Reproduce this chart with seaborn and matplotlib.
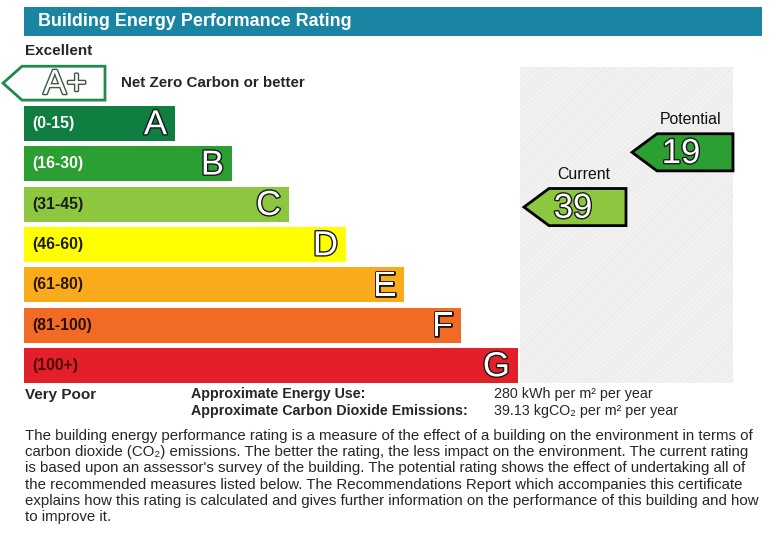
import matplotlib
matplotlib.use("Agg")
import matplotlib.pyplot as plt
import matplotlib.patheffects as pe
from matplotlib.patches import Polygon, Rectangle
import seaborn as sns

# --- data read from the certificate ---
bands = ["A", "B", "C", "D", "E", "F", "G"]
band_ranges = ["(0-15)", "(16-30)", "(31-45)", "(46-60)", "(61-80)", "(81-100)", "(100+)"]
band_lo = [0, 16, 31, 46, 61, 81, 101]
band_hi = [15, 30, 45, 60, 80, 100, 120]
band_len = [151, 208, 265, 322, 380, 437, 494]   # relative bar lengths
band_colors = ["#0f7e40", "#2c9f32", "#8dc63f", "#ffff00", "#f9ab1c", "#f26b25", "#e3202a"]
label_colors = ["white", "white", "#1a1a1a", "#1a1a1a", "#2a1500", "#2a0e00", "#4a0606"]

current_rating = 39
potential_rating = 19

energy_use = "280 kWh per m\u00b2 per year"
co2_emissions = "39.13 kgCO\u2082 per m\u00b2 per year"

paragraph = [
    "The building energy performance rating is a measure of the effect of a building on the environment in terms of",
    "carbon dioxide (CO\u2082) emissions. The better the rating, the less impact on the environment. The current rating",
    "is based upon an assessor's survey of the building. The potential rating shows the effect of undertaking all of",
    "the recommended measures listed below. The Recommendations Report which accompanies this certificate",
    "explains how this rating is calculated and gives further information on the performance of this building and how",
    "to improve it.",
]

FONT = ["Liberation Sans", "DejaVu Sans"]
W, H = 781, 534


def band_position(value):
    """Row (band index) plus fractional offset inside the band."""
    for i, (lo, hi) in enumerate(zip(band_lo, band_hi)):
        if value <= hi:
            return i, i + (value - lo) / (hi - lo) - 0.5
    return len(bands) - 1, len(bands) - 1


sns.set_theme(style="white")
plt.rcParams["font.family"] = FONT
plt.rcParams["hatch.linewidth"] = 0.4

fig = plt.figure(figsize=(W / 100, H / 100), dpi=100)
fig.patch.set_facecolor("white")

# background axes in pixel units for the page furniture
bg = fig.add_axes([0, 0, 1, 1])
bg.set_xlim(0, W)
bg.set_ylim(H, 0)
bg.axis("off")

bg.add_patch(Rectangle((24, 7), 738, 29, facecolor="#1985a2", edgecolor="none"))
bg.text(38, 21.5, "Building Energy Performance Rating", color="white", fontsize=12.9,
        fontweight="bold", va="center", ha="left")
bg.text(25, 51, "Excellent", fontsize=11, fontweight="bold", va="center")

# grey rating panel
bg.add_patch(Rectangle((520, 67), 213, 316, facecolor="#f1f1f1", edgecolor="#e6e6e6",
                       hatch="//////", linewidth=0))

# bars axes: x = offset from the left edge of the scale, y = band index
top_px, bot_px = 63, 385.7
bx = fig.add_axes([0, 1 - bot_px / H, 1, (bot_px - top_px) / H])
bx.patch.set_visible(False)

sns.barplot(x=band_len, y=bands, hue=bands, palette=band_colors, legend=False,
            orient="h", width=0.87, saturation=1, linewidth=0, ax=bx)
bx.set_xlim(-24, W - 24)
bx.set_ylim(6.5, -1.5)
bx.axis("off")

letter_fx = [pe.withStroke(linewidth=2.0, foreground="#1a1a1a")]
for i, b in enumerate(bands):
    bx.text(8, i, band_ranges[i], color=label_colors[i], fontsize=11.3,
            fontweight="bold", va="center", ha="left")
    bx.text(band_len[i] - 8, i + 0.03, b, color="white", fontsize=25, va="center",
            ha="right", path_effects=letter_fx)

# A+ outline arrow above band A
aplus = Polygon([(-21, -1), (-2, -1.42), (81, -1.42), (81, -0.58), (-2, -0.58)],
                closed=True, facecolor="white", edgecolor="#1f8a4c", linewidth=2,
                clip_on=False)
bx.add_patch(aplus)
bx.text(41, -0.97, "A+", color="white", fontsize=25, va="center", ha="center",
        path_effects=[pe.withStroke(linewidth=2, foreground="#3a5a44")])
bx.text(97, -1, "Net Zero Carbon or better", fontsize=10.9, fontweight="bold",
        va="center", ha="left")


def rating_arrow(value, tip_x, body_r, title):
    row, y = band_position(value)
    half = 0.46
    body_l = tip_x + 25
    poly = Polygon([(tip_x, y), (body_l, y - half), (body_r, y - half),
                    (body_r, y + half), (body_l, y + half)], closed=True,
                   facecolor=band_colors[row], edgecolor="black", linewidth=2,
                   clip_on=False, zorder=5)
    bx.add_patch(poly)
    bx.text(body_l + 24, y + 0.03, str(value), color="white", fontsize=25,
            va="center", ha="center", zorder=6, path_effects=letter_fx)
    bx.text((body_l + body_r) / 2 - 4, y - half - 0.16, title, fontsize=11.4,
            va="bottom", ha="center", color="#111111")


rating_arrow(current_rating, 500, 602, "Current")
rating_arrow(potential_rating, 608, 709, "Potential")

# footer
bg.text(25, 395, "Very Poor", fontsize=11, fontweight="bold", va="center")
bg.text(191, 394, "Approximate Energy Use:", fontsize=10.3, fontweight="bold", va="center")
bg.text(191, 411, "Approximate Carbon Dioxide Emissions:", fontsize=10.3,
        fontweight="bold", va="center")
bg.text(494, 394, energy_use, fontsize=10.3, va="center")
bg.text(494, 411, co2_emissions, fontsize=10.3, va="center")

bg.text(25, 429, "\n".join(paragraph), fontsize=10.8, va="top", ha="left",
        linespacing=1.2)

fig.savefig("out.png", dpi=100, facecolor="white")
